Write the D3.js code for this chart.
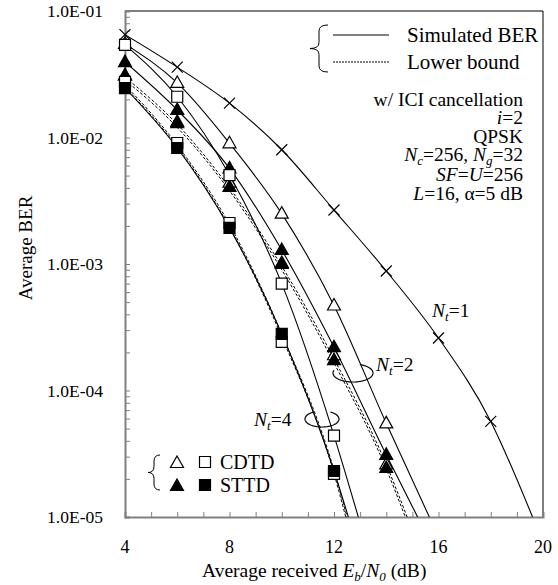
<!DOCTYPE html>
<html>
<head>
<meta charset="utf-8">
<script src="https://cdn.jsdelivr.net/npm/d3@7/dist/d3.min.js"></script>
</head>
<body style="margin:0">
<svg id="chart" width="558" height="585"></svg>
<script>
// Eb/N0 points where markers sit (dB)
var snr = [4, 6, 8, 10, 12, 14, 16, 18];

// marker values
var berNt1      = [6.5e-2, 3.6e-2, 1.87e-2, 8.0e-3, 2.67e-3, 8.8e-4, 2.6e-4, 5.7e-5];
var berNt2CdtdA = [5.5e-2, 2.7e-2, 9.0e-3, 2.5e-3, 4.7e-4, 5.5e-5];
var berNt2SttdA = [3.95e-2, 1.65e-2, 5.7e-3, 1.29e-3, 2.2e-4, 3.1e-5];
var berNt2CdtdB = [3.1e-2, 1.3e-2, 4.4e-3, 1.0e-3, 1.9e-4, 2.6e-5];
var berNt2SttdB = [3.1e-2, 1.33e-2, 4.06e-3, 1.02e-3, 1.74e-4, 2.44e-5];
var berNt4CdtdA = [5.4e-2, 2.1e-2, 5.05e-3, 7.0e-4, 4.4e-5];
var berNt4CdtdB = [2.75e-2, 9.05e-3, 2.11e-3, 2.42e-4, 2.19e-5];
var berNt4SttdB = [2.46e-2, 8.26e-3, 1.93e-3, 2.8e-4, 2.31e-5];

// lower bound curves (dashed)
var bndNt2a = [2.85e-2, 1.2e-2, 3.8e-3, 9.0e-4, 1.65e-4, 2.4e-5];
var bndNt2b = [3.0e-2, 1.27e-2, 4.0e-3, 9.6e-4, 1.78e-4, 2.6e-5];
var bndNt4a = [2.5e-2, 8.4e-3, 1.95e-3, 2.65e-4, 2.2e-5];
var bndNt4b = [2.6e-2, 8.7e-3, 2.05e-3, 2.8e-4, 2.35e-5];

// Eb/N0 where each curve reaches 1e-5
var endNt1 = 19.6, endNt2CdtdA = 15.65, endNt2SttdA = 15.2, endNt4CdtdA = 12.93, endNt4Sttd = 12.55;
var endBndNt2a = 14.73, endBndNt2b = 14.8, endBndNt4a = 12.45, endBndNt4b = 12.5;

var yTicks = [1e-5, 1e-4, 1e-3, 1e-2, 1e-1];
var yTickLabels = ["1.0E-05", "1.0E-04", "1.0E-03", "1.0E-02", "1.0E-01"];
var xTicks = [4, 8, 12, 16, 20];

var FONT = "'Times New Roman', 'Liberation Serif', Tinos, serif";
var svg = d3.select("#chart");

var x = d3.scaleLinear().domain([4, 20]).range([125, 543]);
var y = d3.scaleLog().domain([1e-5, 1e-1]).range([517, 11]);

// all text goes through here so the face is set on each element
function label(parent, tx, ty, size) {
  return parent.append("text")
    .attr("x", tx).attr("y", ty)
    .style("font-family", FONT)
    .style("font-style", "normal")
    .style("font-size", size + "px")
    .attr("fill", "#000");
}

svg.append("clipPath").attr("id", "plot-clip")
  .append("rect").attr("x", 125).attr("y", 11).attr("width", 418).attr("height", 506);

// frame: top and right in black
svg.append("line").attr("x1", 125).attr("x2", 543).attr("y1", 11).attr("y2", 11)
  .attr("stroke", "#000").attr("stroke-width", 1);
svg.append("line").attr("x1", 543).attr("x2", 543).attr("y1", 11).attr("y2", 517)
  .attr("stroke", "#000").attr("stroke-width", 1);

// y axis, ticks inside
var yMinor = [];
for (var e = -5; e < -1; e++) {
  for (var k = 1; k < 10; k++) yMinor.push(k * Math.pow(10, e));
}
yMinor.push(1e-1);
svg.append("g")
  .attr("transform", "translate(125,0)")
  .call(d3.axisRight(y).tickValues(yMinor).tickSize(5).tickFormat(""))
  .call(function(g) {
    g.select(".domain").attr("stroke", "#808080").attr("stroke-width", 2);
    g.selectAll(".tick line").attr("stroke", "#808080");
  });

yTicks.forEach(function(d, i) {
  label(svg, 103, y(d) + 6, 17.5).attr("text-anchor", "end").text(yTickLabels[i]);
});

// x axis, ticks inside every dB
svg.append("g")
  .attr("transform", "translate(0,517)")
  .call(d3.axisTop(x).tickValues(d3.range(4, 21, 1)).tickSize(5).tickFormat(""))
  .call(function(g) {
    g.select(".domain").attr("stroke", "#808080").attr("stroke-width", 2);
    g.selectAll(".tick line").attr("stroke", "#808080");
  });

xTicks.forEach(function(d) {
  label(svg, x(d), 553, 18).attr("text-anchor", "middle").text(d);
});

// italic main letter with a lowered subscript
function subText(t, main, sub, subSize) {
  t.append("tspan").style("font-style", "italic").text(main);
  t.append("tspan").attr("dy", 4).style("font-style", "italic")
    .style("font-size", subSize + "px").text(sub);
}
// plain run after a subscript, back on the baseline
function after(t, s) {
  t.append("tspan").attr("dy", -4).text(s);
}

// axis titles
var xt = label(svg, 202, 577, 19.5);
xt.append("tspan").text("Average received ");
subText(xt, "E", "b", 13);
after(xt, "/");
subText(xt, "N", "0", 13);
after(xt, " (dB)");

label(svg, 0, 0, 19)
  .attr("transform", "translate(32,248) rotate(-90)")
  .attr("text-anchor", "middle")
  .text("Average BER");

// curves
var line = d3.line()
  .x(function(d) { return x(d[0]); })
  .y(function(d) { return y(d[1]); })
  .curve(d3.curveMonotoneX);

function curvePts(vals, end) {
  var pts = vals.map(function(v, i) { return [snr[i], v]; });
  pts.push([end, 1e-5]);
  return pts;
}

var solidCurves = [
  curvePts(berNt1, endNt1),
  curvePts(berNt2CdtdA, endNt2CdtdA),
  curvePts(berNt2SttdA, endNt2SttdA),
  curvePts(berNt4CdtdA, endNt4CdtdA),
  curvePts(berNt4SttdB, endNt4Sttd)
];
var dashedCurves = [
  curvePts(bndNt2a, endBndNt2a),
  curvePts(bndNt2b, endBndNt2b),
  curvePts(bndNt4a, endBndNt4a),
  curvePts(bndNt4b, endBndNt4b)
];

var gCurves = svg.append("g").attr("clip-path", "url(#plot-clip)");
gCurves.selectAll("path.solid")
  .data(solidCurves)
  .enter().append("path")
  .attr("class", "solid")
  .attr("d", line)
  .attr("fill", "none")
  .attr("stroke", "#000")
  .attr("stroke-width", 1.1);

gCurves.selectAll("path.dashed")
  .data(dashedCurves)
  .enter().append("path")
  .attr("class", "dashed")
  .attr("d", line)
  .attr("fill", "none")
  .attr("stroke", "#000")
  .attr("stroke-width", 1)
  .attr("stroke-dasharray", "3,2");

// markers
var triPath = "M0,-7L6.5,4.5L-6.5,4.5Z";
var sqPath = "M-5.5,-5.5H5.5V5.5H-5.5Z";
var crossPath = "M-5.5,-5.5L5.5,5.5M-5.5,5.5L5.5,-5.5";

function drawMarkers(vals, shape, fill) {
  svg.append("g").selectAll("path")
    .data(vals)
    .enter().append("path")
    .attr("transform", function(d, i) { return "translate(" + x(snr[i]) + "," + y(d) + ")"; })
    .attr("d", shape)
    .attr("fill", fill)
    .attr("stroke", "#000")
    .attr("stroke-width", 1.2);
}

drawMarkers(berNt2CdtdB, triPath, "#fff");
drawMarkers(berNt2SttdB, triPath, "#000");
drawMarkers(berNt2SttdA, triPath, "#000");
drawMarkers(berNt2CdtdA, triPath, "#fff");
drawMarkers(berNt4CdtdB, sqPath, "#fff");
drawMarkers(berNt4SttdB, sqPath, "#000");
drawMarkers(berNt4CdtdA, sqPath, "#fff");
drawMarkers(berNt1, crossPath, "none");

// curly brace helper
function brace(tipX, endX, yTop, yBot) {
  var xm = (tipX + endX) / 2, ym = (yTop + yBot) / 2, q = 6;
  return "M" + endX + "," + yTop +
    "Q" + xm + "," + yTop + " " + xm + "," + (yTop + q) +
    "L" + xm + "," + (ym - q) +
    "Q" + xm + "," + ym + " " + tipX + "," + ym +
    "Q" + xm + "," + ym + " " + xm + "," + (ym + q) +
    "L" + xm + "," + (yBot - q) +
    "Q" + xm + "," + yBot + " " + endX + "," + yBot;
}

// legend for line styles
svg.append("path").attr("d", brace(310, 328, 25, 72))
  .attr("fill", "none").attr("stroke", "#000").attr("stroke-width", 1);
svg.append("line").attr("x1", 333).attr("x2", 389).attr("y1", 35).attr("y2", 35)
  .attr("stroke", "#000").attr("stroke-width", 1.2);
svg.append("line").attr("x1", 333).attr("x2", 389).attr("y1", 62).attr("y2", 62)
  .attr("stroke", "#000").attr("stroke-width", 1).attr("stroke-dasharray", "2,1");
label(svg, 407, 42, 21).text("Simulated BER");
label(svg, 407, 69, 21).text("Lower bound");

// parameter block, right aligned
function param(ty) {
  return label(svg, 523, ty, 19.5).attr("text-anchor", "end");
}
param(106).text("w/ ICI cancellation");
var p2 = param(124);
p2.append("tspan").style("font-style", "italic").text("i");
p2.append("tspan").text("=2");
param(143).text("QPSK");
var p4 = param(161);
subText(p4, "N", "c", 13);
after(p4, "=256, ");
subText(p4, "N", "g", 13);
after(p4, "=32");
var p5 = param(181);
p5.append("tspan").style("font-style", "italic").text("SF");
p5.append("tspan").text("=");
p5.append("tspan").style("font-style", "italic").text("U");
p5.append("tspan").text("=256");
var p6 = param(200);
p6.append("tspan").style("font-style", "italic").text("L");
p6.append("tspan").text("=16, \u03b1=5 dB");

// Nt labels with loops
function ntLabel(lx, ly, val) {
  var t = label(svg, lx, ly, 19.5);
  subText(t, "N", "t", 13);
  after(t, "=" + val);
}
ntLabel(432, 317, 1);
ntLabel(376, 371, 2);
ntLabel(254, 426, 4);

function loop(cx, cy, rx, ry, a0, a1) {
  var pts = d3.range(a0, a1 + 1, 4).map(function(a) {
    var r = a * Math.PI / 180;
    return [cx + rx * Math.cos(r), cy + ry * Math.sin(r)];
  });
  svg.append("path").attr("d", d3.line()(pts))
    .attr("fill", "none").attr("stroke", "#000").attr("stroke-width", 1.2);
}
loop(353, 373, 20, 9, -70, 200);
loop(322, 419, 17, 8, -60, 240);

// marker legend
svg.append("path").attr("d", brace(148, 160, 455, 490))
  .attr("fill", "none").attr("stroke", "#000").attr("stroke-width", 1);
svg.append("path").attr("transform", "translate(177,463)").attr("d", triPath)
  .attr("fill", "#fff").attr("stroke", "#000").attr("stroke-width", 1.2);
svg.append("path").attr("transform", "translate(205,462)").attr("d", sqPath)
  .attr("fill", "#fff").attr("stroke", "#000").attr("stroke-width", 1.2);
svg.append("path").attr("transform", "translate(177,486)").attr("d", triPath)
  .attr("fill", "#000").attr("stroke", "#000").attr("stroke-width", 1.2);
svg.append("path").attr("transform", "translate(205,485)").attr("d", sqPath)
  .attr("fill", "#000").attr("stroke", "#000").attr("stroke-width", 1.2);
label(svg, 220, 469, 20).text("CDTD");
label(svg, 220, 492, 20).text("STTD");
</script>
</body>
</html>
